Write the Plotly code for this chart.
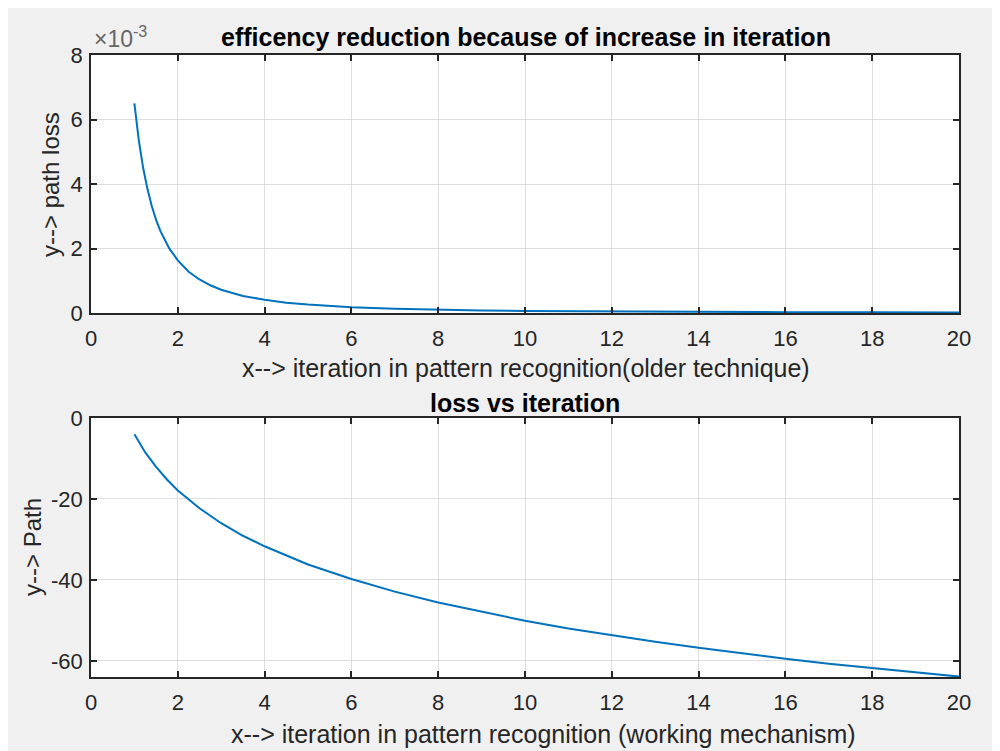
import plotly.graph_objects as go
from plotly.subplots import make_subplots

# ---- data ----
x_top = [1, 1.1, 1.2, 1.3, 1.4, 1.5, 1.6, 1.8, 2, 2.25, 2.5, 2.75, 3, 3.5, 4, 4.5,
         5, 6, 7, 8, 9, 10, 12, 14, 16, 18, 20]
y_top = [6.5e-3, 5.37e-3, 4.51e-3, 3.85e-3, 3.32e-3, 2.89e-3, 2.54e-3, 2.01e-3,
         1.63e-3, 1.28e-3, 1.04e-3, 0.86e-3, 0.72e-3, 0.53e-3, 0.41e-3, 0.32e-3,
         0.26e-3, 0.18e-3, 0.13e-3, 0.10e-3, 0.08e-3, 0.065e-3, 0.045e-3,
         0.033e-3, 0.025e-3, 0.02e-3, 0.016e-3]

x_bot = [1, 1.25, 1.5, 1.75, 2, 2.5, 3, 3.5, 4, 5, 6, 7, 8, 9, 10, 11, 12, 13,
         14, 15, 16, 17, 18, 19, 20]
y_bot = [-4.0, -8.5, -12.1, -15.2, -17.9, -22.3, -26.0, -29.1, -31.7, -36.2,
         -39.8, -42.9, -45.6, -47.9, -50.1, -52.0, -53.7, -55.3, -56.8, -58.2,
         -59.5, -60.7, -61.8, -62.9, -63.9]

x_ticks = [0, 2, 4, 6, 8, 10, 12, 14, 16, 18, 20]
top_yticks = [0, 0.002, 0.004, 0.006, 0.008]
top_yticktext = ["0", "2", "4", "6", "8"]
bot_yticks = [-60, -40, -20, 0]
bot_yticktext = ["-60", "-40", "-20", "0"]

title_top = "efficency reduction because of increase in iteration"
title_bot = "loss vs iteration"
xlabel_top = "x--> iteration in pattern recognition(older technique)"
xlabel_bot = "x--> iteration in pattern recognition (working mechanism)"
ylabel_top = "y--> path loss"
ylabel_bot = "y--> Path"

# ---- figure (page has an 8px body margin, so figure coords = page coords - 8) ----
W, H = 1000, 751
OFF = 8
L, R, T = 91 - OFF, 1000 - (959 - OFF), 55 - OFF
B = H - (677 - OFF)
ph = H - T - B
pw = W - L - R

def py(p):  # page pixel y -> paper y
    return (H - B - (p - OFF)) / ph

def px(p):  # page pixel x -> paper x
    return ((p - OFF) - L) / pw

fig = make_subplots(rows=2, cols=1, vertical_spacing=0.0)
line = dict(color="#0072BD", width=2)
fig.add_trace(go.Scatter(x=x_top, y=y_top, mode="lines", line=line, showlegend=False), row=1, col=1)
fig.add_trace(go.Scatter(x=x_bot, y=y_bot, mode="lines", line=line, showlegend=False), row=2, col=1)

font = "Liberation Sans, Arial, Helvetica, sans-serif"
axcol = "#262626"
grid = "#dedede"
common = dict(showline=True, linecolor=axcol, linewidth=1.5, mirror="ticks",
              ticks="inside", ticklen=6, tickcolor=axcol, tickwidth=1.5,
              showgrid=True, gridcolor=grid, gridwidth=1, zeroline=False,
              tickfont=dict(family=font, size=22, color=axcol))

fig.update_xaxes(range=[0, 20], tickvals=x_ticks, ticklabelstandoff=5, **common)
fig.update_yaxes(ticklabelstandoff=2, **common)
fig.update_yaxes(range=[0, 0.008], tickvals=top_yticks, ticktext=top_yticktext, row=1, col=1)
fig.update_yaxes(range=[-64, 0], tickvals=bot_yticks, ticktext=bot_yticktext, row=2, col=1)

fig.update_layout(
    xaxis=dict(domain=[0, 1]),
    yaxis=dict(domain=[py(313), 1]),
    yaxis2=dict(domain=[0, py(418)]),
    width=W, height=H,
    margin=dict(l=L, r=R, t=T, b=B),
    paper_bgcolor="#f0f0f0", plot_bgcolor="white",
    font=dict(family=font, color=axcol),
)

ann = [
    dict(text="<b>%s</b>" % title_top, x=px(526), y=py(37), size=25, color="#000000"),
    dict(text="<b>%s</b>" % title_bot, x=px(525), y=py(403), size=25, color="#000000"),
    dict(text=xlabel_top, x=px(526), y=py(368), size=25, color=axcol),
    dict(text=xlabel_bot, x=px(543), y=py(734), size=25, color=axcol),
]
for a in ann:
    fig.add_annotation(text=a["text"], xref="paper", yref="paper", x=a["x"], y=a["y"],
                       xanchor="center", yanchor="middle", showarrow=False,
                       font=dict(family=font, size=a["size"], color=a["color"]))
fig.add_annotation(text=ylabel_top, xref="paper", yref="paper", x=px(50), y=py(185),
                   textangle=-90, xanchor="center", yanchor="middle", showarrow=False,
                   font=dict(family=font, size=24, color=axcol))
fig.add_annotation(text=ylabel_bot, xref="paper", yref="paper", x=px(32), y=py(547),
                   textangle=-90, xanchor="center", yanchor="middle", showarrow=False,
                   font=dict(family=font, size=24, color=axcol))
fig.add_annotation(text="×10<sup>-3</sup>", xref="paper", yref="paper", x=px(92), y=py(37),
                   xanchor="left", yanchor="middle", showarrow=False,
                   font=dict(family=font, size=23, color="#666666"))

fig.write_html("out.html")
